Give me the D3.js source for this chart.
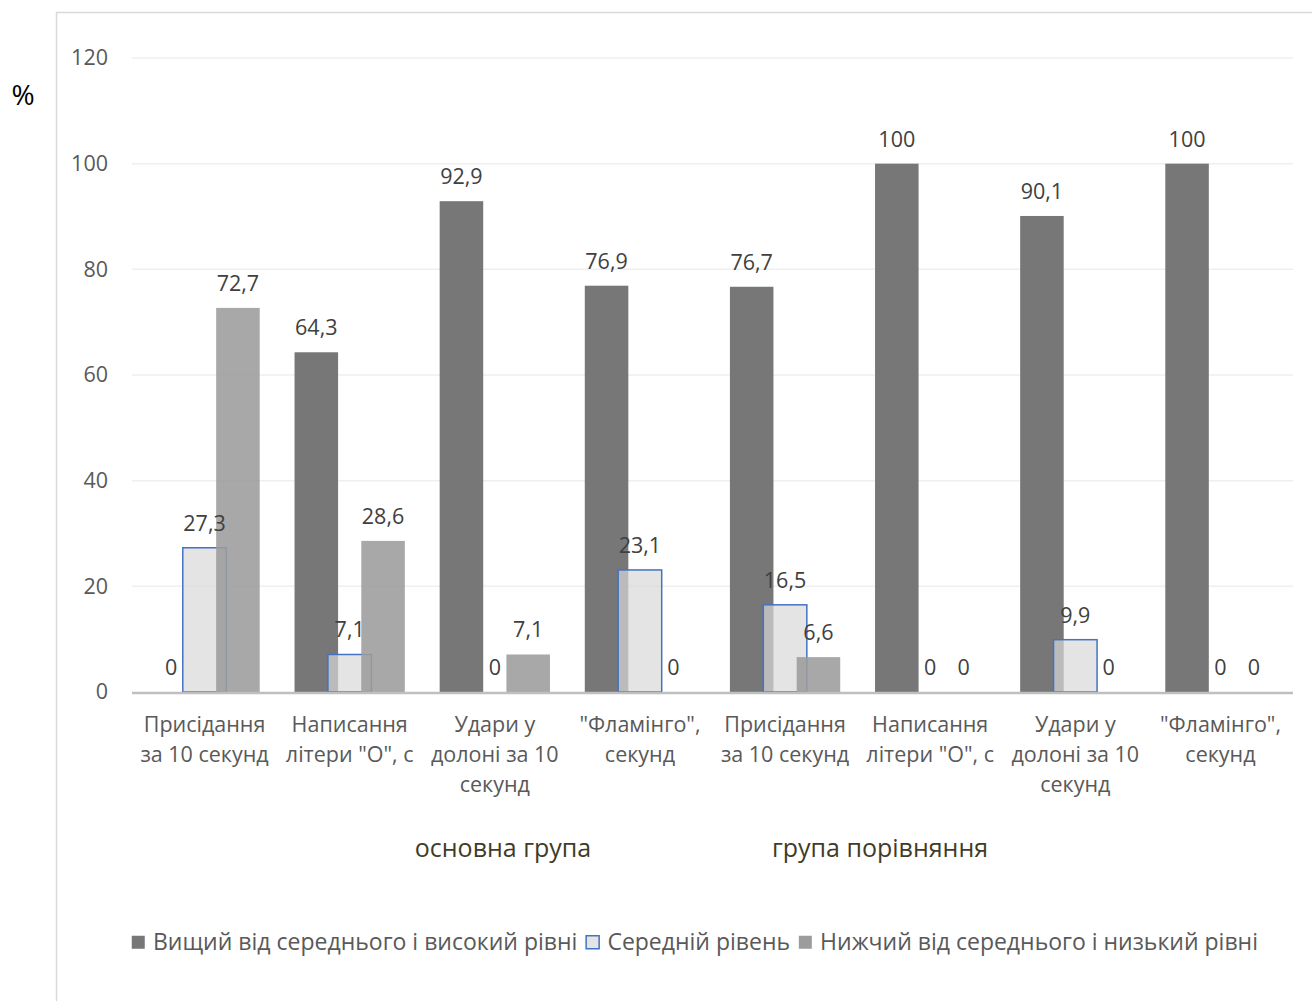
<!DOCTYPE html>
<html>
<head>
<meta charset="utf-8">
<script src="https://cdn.jsdelivr.net/npm/d3@7"></script>
<style>
  html, body { margin: 0; padding: 0; background: #fff; }
  svg { display: block; font-family: "Open Sans", "Noto Sans", sans-serif; }
</style>
</head>
<body>
<svg id="chart" width="1312" height="1001"></svg>
<script>
// Test names (two groups of four tests each)
const categories = [
  ["Присідання", "за 10 секунд"],
  ["Написання", "літери \"О\", с"],
  ["Удари у", "долоні за 10", "секунд"],
  ["\"Фламінго\",", "секунд"],
  ["Присідання", "за 10 секунд"],
  ["Написання", "літери \"О\", с"],
  ["Удари у", "долоні за 10", "секунд"],
  ["\"Фламінго\",", "секунд"]
];
const groupNames = ["основна група", "група порівняння"];
const seriesNames = [
  "Вищий від середнього і високий рівні",
  "Середній рівень",
  "Нижчий від середнього і низький рівні"
];
// Percent of participants per level
const highValues = [0, 64.3, 92.9, 76.9, 76.7, 100, 90.1, 100];
const midValues  = [27.3, 7.1, 0, 23.1, 16.5, 0, 9.9, 0];
const lowValues  = [72.7, 28.6, 7.1, 0, 6.6, 0, 0, 0];
const yTicks = [0, 20, 40, 60, 80, 100, 120];

const series = [highValues, midValues, lowValues];
const styles = [
  { fill: "#777777", opacity: 1, stroke: "none" },
  { fill: "#d9d9d9", opacity: 0.7, stroke: "#4472c4" },
  { fill: "#9c9c9c", opacity: 0.88, stroke: "none" }
];

const labelSize = 21.5;
const svg = d3.select("#chart");

// outer frame (open to the right and bottom)
svg.append("rect")
  .attr("x", 56.5).attr("y", 12.5)
  .attr("width", 1400).attr("height", 1100)
  .attr("fill", "none").attr("stroke", "#d9d9d9").attr("stroke-width", 1.5);

const plotL = 132, plotR = 1293, plotT = 58, plotB = 692;
const x = d3.scaleBand().domain(d3.range(categories.length)).range([plotL, plotR]).padding(0);
const y = d3.scaleLinear().domain([0, 120]).range([plotB, plotT]);

const bw = x.bandwidth();
const barW = bw * 0.30;
const step = bw * 0.23;
const fmt = v => String(v).replace(".", ",");

// gridlines
svg.append("g").selectAll("line").data(yTicks.filter(t => t > 0)).join("line")
  .attr("x1", plotL).attr("x2", plotR)
  .attr("y1", d => y(d)).attr("y2", d => y(d))
  .attr("stroke", "#efefef").attr("stroke-width", 1.5);

// y axis labels
const yAxis = d3.axisLeft(y).tickValues(yTicks).tickSize(0).tickPadding(24);
const yg = svg.append("g").attr("transform", `translate(${plotL},0)`).call(yAxis);
yg.select(".domain").remove();
yg.selectAll("text").attr("font-size", labelSize).attr("fill", "#595959")
  .attr("font-family", "Open Sans, sans-serif");

// bars
series.forEach((vals, s) => {
  const off = (s - 1) * step;
  svg.append("g").selectAll("rect").data(vals).join("rect")
    .attr("x", (d, i) => x(i) + bw / 2 + off - barW / 2)
    .attr("y", d => y(d))
    .attr("width", barW)
    .attr("height", d => plotB - y(d))
    .attr("fill", styles[s].fill)
    .attr("fill-opacity", styles[s].opacity)
    .attr("stroke", d => d > 0 ? styles[s].stroke : "none")
    .attr("stroke-width", 1.5);
});

// baseline
svg.append("line").attr("x1", plotL).attr("x2", plotR)
  .attr("y1", plotB + 1).attr("y2", plotB + 1)
  .attr("stroke", "#bfbfbf").attr("stroke-width", 2.5);

// value labels
series.forEach((vals, s) => {
  const off = (s - 1) * step;
  svg.append("g").selectAll("text").data(vals).join("text")
    .attr("x", (d, i) => x(i) + bw / 2 + off)
    .attr("y", d => y(d) - 17)
    .attr("text-anchor", "middle")
    .attr("font-size", labelSize).attr("fill", "#404040")
    .text(d => fmt(d));
});

// category labels
const cg = svg.append("g");
categories.forEach((lines, i) => {
  const t = cg.append("text")
    .attr("x", x(i) + bw / 2).attr("y", 732)
    .attr("text-anchor", "middle")
    .attr("font-size", labelSize).attr("fill", "#595959");
  lines.forEach((ln, j) => {
    t.append("tspan").attr("x", x(i) + bw / 2).attr("dy", j === 0 ? 0 : 30).text(ln);
  });
});

// group captions
const groupX = [503, 880];
svg.append("g").selectAll("text").data(groupNames).join("text")
  .attr("x", (d, i) => groupX[i]).attr("y", 857)
  .attr("text-anchor", "middle")
  .attr("font-size", 25).attr("fill", "#3f3c27")
  .text(d => d);

// axis unit
svg.append("text").attr("x", 23).attr("y", 105)
  .attr("text-anchor", "middle").attr("font-size", 28).attr("fill", "#000")
  .text("%");

// legend
const lg = svg.append("g");
let lx = 131;
seriesNames.forEach((name, s) => {
  lg.append("rect").attr("x", lx + 0.75).attr("y", 935.75)
    .attr("width", 13).attr("height", 13)
    .attr("fill", s === 1 ? "#e4e4e4" : styles[s].fill)
    .attr("stroke", s === 1 ? "#4472c4" : "none").attr("stroke-width", 1.5);
  const t = lg.append("text").attr("x", lx + 22).attr("y", 950)
    .attr("font-size", 23).attr("fill", "#595959").text(name);
  lx += 22 + t.node().getComputedTextLength() + 8;
});
</script>
</body>
</html>
